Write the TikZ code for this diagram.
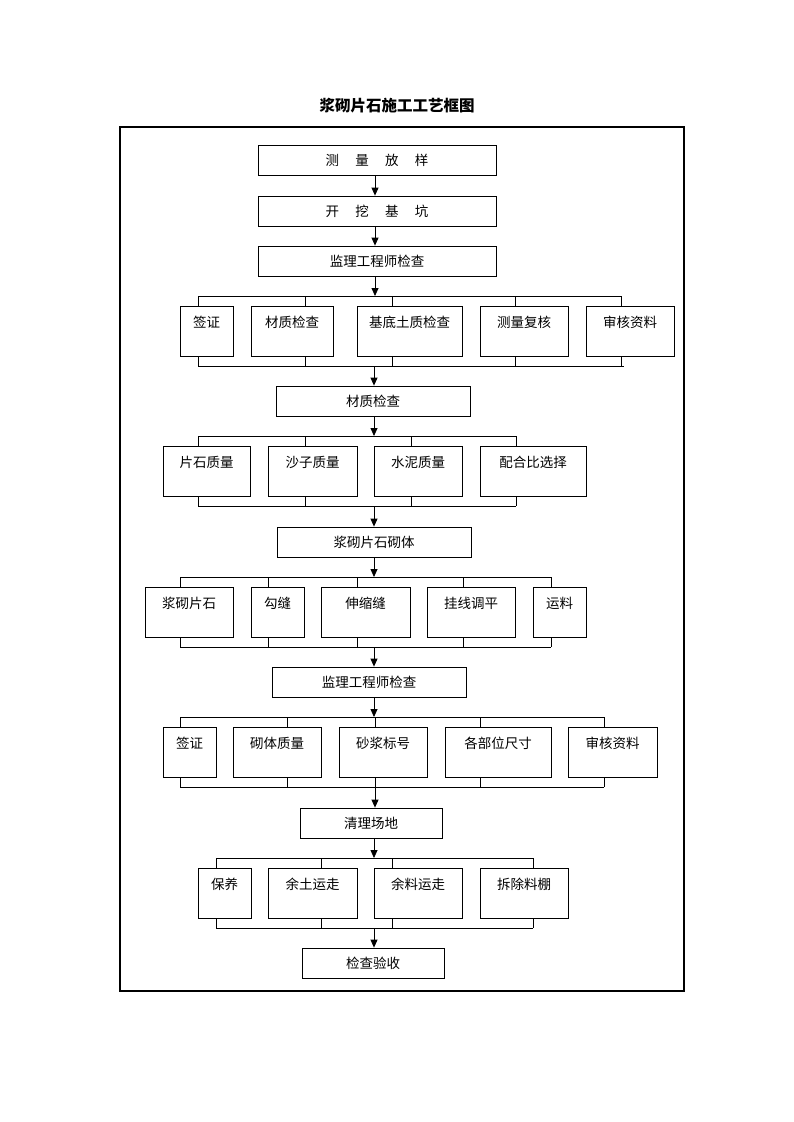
\documentclass[tikz,border=0pt]{standalone}
\usepackage{fontspec}
\setmainfont{Noto Sans CJK SC}
\usetikzlibrary{arrows.meta}
\tikzset{
  box/.style={draw, line width=0.8pt, minimum height=30pt, inner sep=0pt, font=\fontsize{13.5}{15}\selectfont},
  rbox/.style={draw, line width=0.8pt, minimum height=50pt, inner sep=0pt},
  lbl/.style={anchor=north, inner sep=0pt, yshift=-10pt, font=\fontsize{13.5}{15}\selectfont},
  link/.style={line width=0.8pt},
  arr/.style={line width=0.8pt, -{Triangle[length=8pt,width=7pt]}},
}
\begin{document}
\begin{tikzpicture}[x=1pt,y=-1pt]
\useasboundingbox (0,0) rectangle (793,1122);
\node[font=\fontsize{15.5}{17}\selectfont\bfseries] (title) at (397,106) {浆砌片石施工工艺框图};
\draw[line width=1.8pt] (120,127) rectangle (684,991);

% top chain
\node[box, minimum width=238pt] (a1) at (377,160.5) {测\hspace{1.2em}量\hspace{1.2em}放\hspace{1.2em}样};
\node[box, minimum width=238pt] (a2) at (377,211) {开\hspace{1.2em}挖\hspace{1.2em}基\hspace{1.2em}坑};
\node[box, minimum width=238pt] (a3) at (377,261) {监理工程师检查};
\draw[arr] (a1.south -| 375,0) -- (a2.north -| 375,0);
\draw[arr] (a2.south -| 375,0) -- (a3.north -| 375,0);

% row 1
\coordinate (t1) at (375,296);
\node[rbox, minimum width=53pt, label={[lbl]north:签证}] (r11) at (206.5,331) {};
\node[rbox, minimum width=82pt, label={[lbl]north:材质检查}] (r12) at (292,331) {};
\node[rbox, minimum width=105pt, label={[lbl]north:基底土质检查}] (r13) at (409.5,331) {};
\node[rbox, minimum width=88pt, label={[lbl]north:测量复核}] (r14) at (524,331) {};
\node[rbox, minimum width=88pt, label={[lbl]north:审核资料}] (r15) at (630,331) {};
\draw[arr] (a3.south -| t1) -- (t1);
\draw[link] (198,296) -- (621,296);
\foreach \x/\n in {198/r11,305/r12,392/r13,515/r14,621/r15}{
  \draw[link] (\x,296) -- (\n.north -| \x,0);
  \draw[link] (\n.south -| \x,0) -- (\x,366);
}
\draw[link] (198,366) -- (624,366);
\coordinate (b1) at (374,366);

\node[box, minimum width=194pt] (m1) at (373,401) {材质检查};
\draw[arr] (b1) -- (m1.north -| b1);

% row 2
\coordinate (t2) at (374,436);
\draw[arr] (m1.south -| t2) -- (t2);
\node[rbox, minimum width=87pt, label={[lbl]north:片石质量}] (r21) at (206.5,471) {};
\node[rbox, minimum width=89pt, label={[lbl]north:沙子质量}] (r22) at (312.5,471) {};
\node[rbox, minimum width=88pt, label={[lbl]north:水泥质量}] (r23) at (418,471) {};
\node[rbox, minimum width=106pt, label={[lbl]north:配合比选择}] (r24) at (533,471) {};
\draw[link] (198,436) -- (516,436);
\foreach \x/\n in {198/r21,305/r22,411/r23,516/r24}{
  \draw[link] (\x,436) -- (\n.north -| \x,0);
  \draw[link] (\n.south -| \x,0) -- (\x,506);
}
\draw[link] (198,506) -- (516,506);
\coordinate (b2) at (374,506);

\node[box, minimum width=194pt] (m2) at (374,542) {浆砌片石砌体};
\draw[arr] (b2) -- (m2.north -| b2);

% row 3
\coordinate (t3) at (374,577);
\draw[arr] (m2.south -| t3) -- (t3);
\node[rbox, minimum width=88pt, label={[lbl]north:浆砌片石}] (r31) at (189,612) {};
\node[rbox, minimum width=53pt, label={[lbl]north:勾缝}] (r32) at (277.5,612) {};
\node[rbox, minimum width=89pt, label={[lbl]north:伸缩缝}] (r33) at (365.5,612) {};
\node[rbox, minimum width=88pt, label={[lbl]north:挂线调平}] (r34) at (471,612) {};
\node[rbox, minimum width=53pt, label={[lbl]north:运料}] (r35) at (559.5,612) {};
\draw[link] (180,577) -- (551,577);
\foreach \x/\n in {180/r31,268/r32,357/r33,463/r34,551/r35}{
  \draw[link] (\x,577) -- (\n.north -| \x,0);
  \draw[link] (\n.south -| \x,0) -- (\x,647);
}
\draw[link] (180,647) -- (551,647);
\coordinate (b3) at (374,647);

\node[box, minimum width=194pt] (m3) at (369,682) {监理工程师检查};
\draw[arr] (b3) -- (m3.north -| b3);

% row 4
\coordinate (t4) at (374,717);
\draw[arr] (m3.south -| t4) -- (t4);
\node[rbox, minimum width=53pt, label={[lbl]north:签证}] (r41) at (189.5,752.5) {};
\node[rbox, minimum width=88pt, label={[lbl]north:砌体质量}] (r42) at (277,752.5) {};
\node[rbox, minimum width=88pt, label={[lbl]north:砂浆标号}] (r43) at (383,752.5) {};
\node[rbox, minimum width=106pt, label={[lbl]north:各部位尺寸}] (r44) at (498,752.5) {};
\node[rbox, minimum width=89pt, label={[lbl]north:审核资料}] (r45) at (612.5,752.5) {};
\draw[link] (180,717) -- (604,717);
\foreach \x/\n in {180/r41,287/r42,375/r43,480/r44,604/r45}{
  \draw[link] (\x,717) -- (\n.north -| \x,0);
  \draw[link] (\n.south -| \x,0) -- (\x,787);
}
\draw[link] (180,787) -- (604,787);
\coordinate (b4) at (375,787);

\node[box, minimum width=142pt] (m4) at (371,823) {清理场地};
\draw[arr] (b4) -- (m4.north -| b4);

% row 5
\coordinate (t5) at (374,858);
\draw[arr] (m4.south -| t5) -- (t5);
\node[rbox, minimum width=53pt, label={[lbl]north:保养}] (r51) at (224.5,893) {};
\node[rbox, minimum width=89pt, label={[lbl]north:余土运走}] (r52) at (312.5,893) {};
\node[rbox, minimum width=88pt, label={[lbl]north:余料运走}] (r53) at (418,893) {};
\node[rbox, minimum width=88pt, label={[lbl]north:拆除料棚}] (r54) at (524,893) {};
\draw[link] (216,858) -- (533,858);
\foreach \x/\n in {216/r51,321/r52,392/r53,533/r54}{
  \draw[link] (\x,858) -- (\n.north -| \x,0);
  \draw[link] (\n.south -| \x,0) -- (\x,928);
}
\draw[link] (216,928) -- (533,928);
\coordinate (b5) at (374,928);

\node[box, minimum width=142pt] (m5) at (373,963) {检查验收};
\draw[arr] (b5) -- (m5.north -| b5);
\end{tikzpicture}
\end{document}
